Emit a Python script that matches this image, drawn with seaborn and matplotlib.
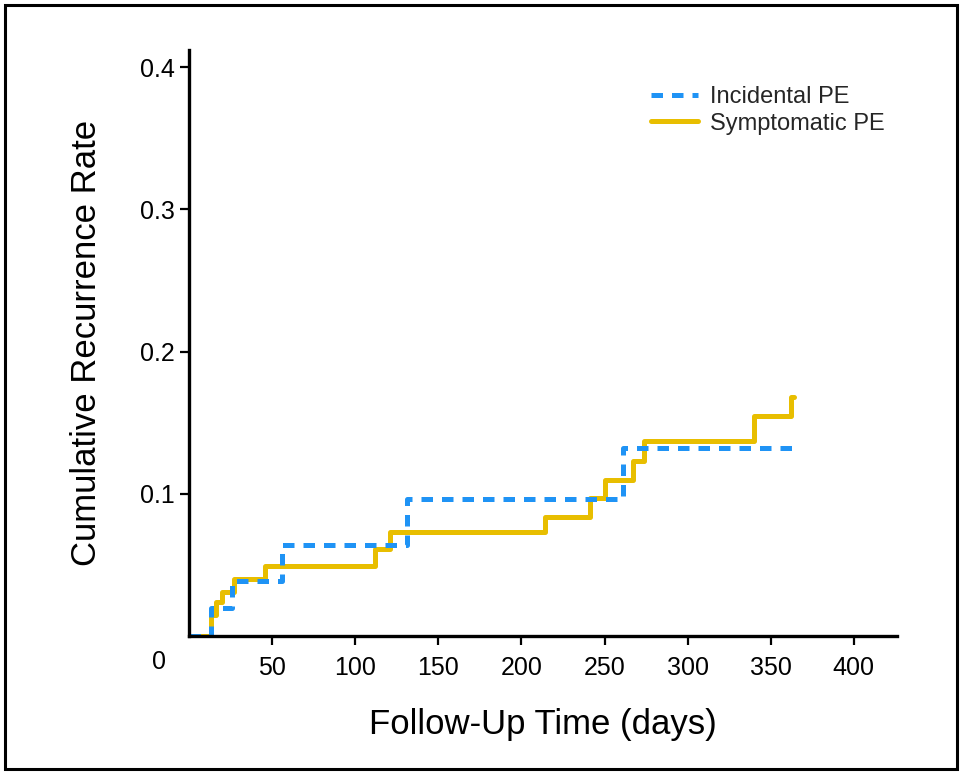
import numpy as np
import pandas as pd
import matplotlib
matplotlib.use("Agg")
import matplotlib.pyplot as plt
from matplotlib.patches import Rectangle
import seaborn as sns

# Step data (days, cumulative rate)
incidental_days = [0, 13, 26, 56, 131, 261, 366]
incidental_rate = [0.0, 0.020, 0.039, 0.064, 0.096, 0.132, 0.132]

symptomatic_days = [0, 13, 16, 20, 27, 46, 112, 121, 214, 241, 250, 267, 274, 340, 362, 364]
symptomatic_rate = [0.0, 0.015, 0.024, 0.031, 0.040, 0.049, 0.061, 0.073, 0.084,
                    0.097, 0.110, 0.123, 0.137, 0.155, 0.168, 0.168]

x_ticks = [50, 100, 150, 200, 250, 300, 350, 400]
y_ticks = [0.1, 0.2, 0.3, 0.4]

blue = "#1f93f5"
gold = "#e8be00"

sns.set_style("white")
plt.rcParams['font.family'] = ['Liberation Sans', 'DejaVu Sans']

inc = pd.DataFrame({'days': incidental_days, 'rate': incidental_rate})
sym = pd.DataFrame({'days': symptomatic_days, 'rate': symptomatic_rate})

fig = plt.figure(figsize=(9.62, 7.74), dpi=100)
ax = fig.add_axes([0.1965, 0.1783, 0.736, 0.757])

# gold first so the dashed blue sits on top
sns.lineplot(data=sym, x='days', y='rate', ax=ax, color=gold, linewidth=3.6,
             drawstyle='steps-post', estimator=None, sort=False, label='Symptomatic PE')
sns.lineplot(data=inc, x='days', y='rate', ax=ax, color=blue, linewidth=3.6,
             linestyle=(0, (2.3, 1.8)), drawstyle='steps-post', estimator=None,
             sort=False, label='Incidental PE')

ax.set_xlim(0, 426)
ax.set_ylim(0, 0.412)
ax.set_xticks(x_ticks)
ax.set_yticks(y_ticks)
ax.set_xticklabels([str(t) for t in x_ticks])
ax.set_yticklabels([f"{t:.1f}" for t in y_ticks])

for side in ['top', 'right']:
    ax.spines[side].set_visible(False)
for side in ['left', 'bottom']:
    ax.spines[side].set_color('black')
    ax.spines[side].set_linewidth(2.4)

ax.tick_params(axis='both', which='major', direction='out', length=6.5, width=1.6,
               color='black', labelcolor='black', labelsize=18,
               bottom=True, left=True)
ax.tick_params(axis='x', pad=8)
ax.tick_params(axis='y', pad=4)

# shared origin label
ax.annotate('0', xy=(0, 0), xytext=(-21.5, -19), textcoords='offset points',
            ha='center', va='center', fontsize=18, color='black',
            annotation_clip=False)

ax.set_xlabel('Follow-Up Time (days)', fontsize=25, color='black', labelpad=20)
ax.set_ylabel('Cumulative Recurrence Rate', fontsize=25, color='black', labelpad=26)

handles, labels = ax.get_legend_handles_labels()
order = [labels.index('Incidental PE'), labels.index('Symptomatic PE')]
ax.legend([handles[i] for i in order], [labels[i] for i in order],
          loc='upper right', bbox_to_anchor=(1.012, 0.975), frameon=False,
          fontsize=17, handlelength=2.0, handletextpad=0.5, labelspacing=0.2)

# outer frame around the figure
fig.patches.append(Rectangle((5 / 962, 5 / 774), 952 / 962, 764 / 774,
                             transform=fig.transFigure, fill=False,
                             edgecolor='black', linewidth=2.2))

fig.savefig('out.png', dpi=100, facecolor='white')
